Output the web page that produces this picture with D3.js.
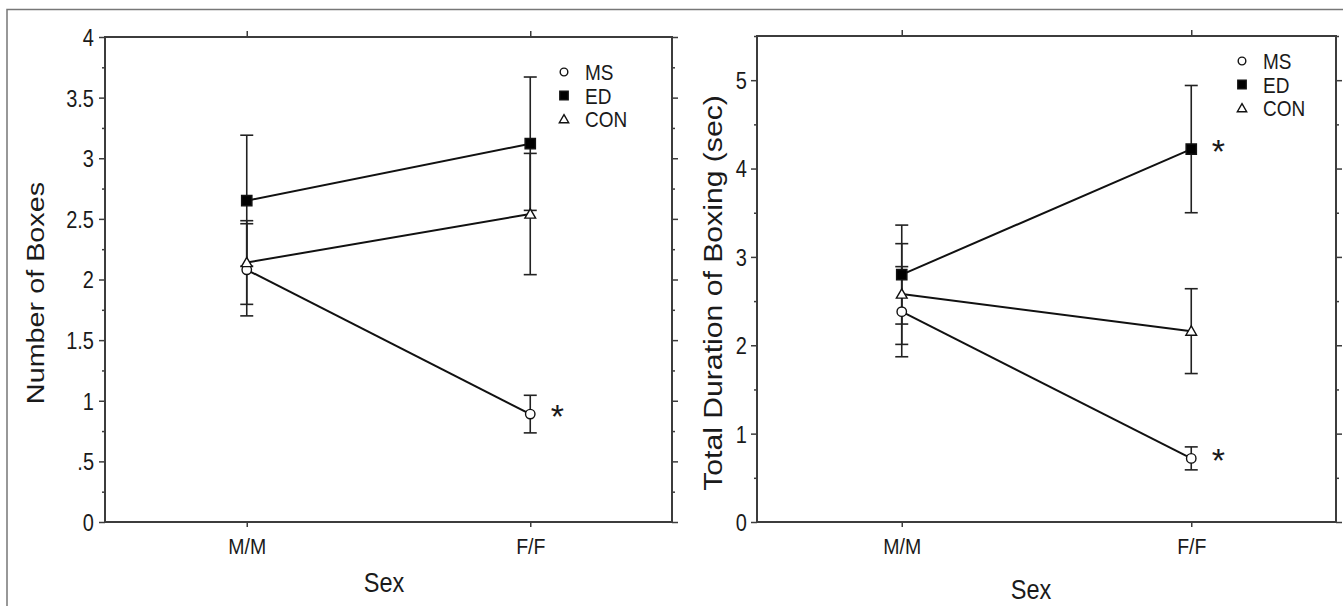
<!DOCTYPE html>
<html><head><meta charset="utf-8">
<script src="https://cdn.jsdelivr.net/npm/d3@7"></script>
<style>
body{margin:0;background:#fff}
svg{display:block}
text{font-family:"Liberation Sans",Arial,Helvetica,sans-serif;fill:#1a1a1a}
</style>
</head><body>
<svg id="chart" width="1343" height="606"></svg>
<script>
// ---------- data ----------
const categories = ["M/M", "F/F"];
const seriesNames = ["MS", "ED", "CON"];

// Number of Boxes (left panel)
const boxesMS = [2.08, 0.89];
const boxesMSErr = [0.38, 0.155];
const boxesED = [2.65, 3.12];
const boxesEDErr = [0.54, 0.55];
const boxesCON = [2.14, 2.54];
const boxesCONErr = [0.345, 0.50];
const boxesTicks = [0, 0.5, 1, 1.5, 2, 2.5, 3, 3.5, 4];
const boxesTickLabels = ["0", ".5", "1", "1.5", "2", "2.5", "3", "3.5", "4"];
const boxesMinorTicks = [0.25, 0.75, 1.25, 1.75, 2.25, 2.75, 3.25, 3.75];
const boxesSig = [{series: "MS", cat: "F/F"}];

// Total Duration of Boxing (right panel)
const durMS = [2.38, 0.72];
const durMSErr = [0.51, 0.13];
const durED = [2.80, 4.22];
const durEDErr = [0.56, 0.72];
const durCON = [2.58, 2.16];
const durCONErr = [0.57, 0.48];
const durTicks = [0, 1, 2, 3, 4, 5];
const durTickLabels = ["0", "1", "2", "3", "4", "5"];
const durMinorTicks = [0.5, 1.5, 2.5, 3.5, 4.5, 5.5];
const durSig = [{series: "ED", cat: "F/F"}, {series: "MS", cat: "F/F"}];

// ---------- drawing ----------
const K = 1.17; // vertical text stretch of the original figure
const svg = d3.select("#chart");

// outer frame
svg.append("path").attr("d", "M7,606V9.5H1343")
  .attr("fill", "none").attr("stroke", "#777").attr("stroke-width", 1.5);

function stretchText(sel, x, y, size, anchor, rot) {
  sel.attr("transform", `translate(${x},${y}) scale(1,${K})` + (rot ? " rotate(-90)" : ""))
     .attr("font-size", size).attr("text-anchor", anchor);
  return sel;
}

function panel(cfg) {
  const g = svg.append("g");
  const x = d3.scalePoint().domain(categories).range([cfg.left, cfg.right]).padding(0.5);
  const y = d3.scaleLinear().domain(cfg.domain).range([cfg.bottom, cfg.top]);
  const axisColor = "#3c3c3c";

  const styleAxis = a => {
    a.select(".domain").remove();
    a.selectAll(".tick line").attr("stroke", axisColor).attr("stroke-width", 1.5);
  };

  // left axis major + labels
  const ly = g.append("g").attr("transform", `translate(${cfg.left},0)`)
    .call(d3.axisLeft(y).tickValues(cfg.ticks).tickSize(6)
      .tickFormat((d, i) => cfg.tickLabels[i]));
  styleAxis(ly);
  ly.selectAll(".tick text")
    .attr("x", null).attr("dy", "0.36em").attr("fill", "#1a1a1a")
    .attr("font-family", null).attr("font-size", 20)
    .attr("transform", `translate(${cfg.labelOff},0) scale(1,${K})`)
    .attr("text-anchor", "end");
  const lym = g.append("g").attr("transform", `translate(${cfg.left},0)`)
    .call(d3.axisLeft(y).tickValues(cfg.minor).tickSize(3).tickFormat(""));
  styleAxis(lym);

  // right axis
  const ry = g.append("g").attr("transform", `translate(${cfg.right},0)`)
    .call(d3.axisRight(y).tickValues(cfg.ticks).tickSize(6).tickFormat(""));
  styleAxis(ry);
  const rym = g.append("g").attr("transform", `translate(${cfg.right},0)`)
    .call(d3.axisRight(y).tickValues(cfg.minor).tickSize(3).tickFormat(""));
  styleAxis(rym);

  // bottom axis
  const bx = g.append("g").attr("transform", `translate(0,${cfg.bottom})`)
    .call(d3.axisBottom(x).tickSize(5));
  styleAxis(bx);
  bx.selectAll(".tick text")
    .attr("y", 0).attr("dy", null).attr("fill", "#1a1a1a")
    .attr("font-family", null).attr("font-size", 19.5)
    .attr("transform", `translate(0,32) scale(1,${K})`);
  // top axis
  const tx = g.append("g").attr("transform", `translate(0,${cfg.top})`)
    .call(d3.axisTop(x).tickSize(6).tickFormat(""));
  styleAxis(tx);

  // frame box
  g.append("rect").attr("x", cfg.left).attr("y", cfg.top)
    .attr("width", cfg.right - cfg.left).attr("height", cfg.bottom - cfg.top)
    .attr("fill", "none").attr("stroke", axisColor).attr("stroke-width", 2);

  // axis titles
  stretchText(g.append("text").text(cfg.yTitle), cfg.yTitleX, cfg.yTitleY, cfg.yTitleSize, "middle", true);
  stretchText(g.append("text").text("Sex"), cfg.xTitleX, cfg.xTitleY, 23.5, "middle", false);

  const series = seriesNames.map((name, si) => ({
    name,
    values: categories.map((c, i) => ({cat: c, v: cfg.means[si][i], e: cfg.errs[si][i]}))
  }));

  // lines
  const line = d3.line().x(d => x(d.cat)).y(d => y(d.v));
  g.selectAll(".sline").data(series).join("path")
    .attr("d", d => line(d.values))
    .attr("fill", "none").attr("stroke", "#111").attr("stroke-width", 2);

  // error bars
  const eb = g.selectAll(".eb").data(series.flatMap(s => s.values)).join("g");
  eb.append("line").attr("x1", d => x(d.cat)).attr("x2", d => x(d.cat))
    .attr("y1", d => y(d.v - d.e)).attr("y2", d => y(d.v + d.e));
  eb.append("line").attr("x1", d => x(d.cat) - 6.5).attr("x2", d => x(d.cat) + 6.5)
    .attr("y1", d => y(d.v + d.e)).attr("y2", d => y(d.v + d.e));
  eb.append("line").attr("x1", d => x(d.cat) - 6.5).attr("x2", d => x(d.cat) + 6.5)
    .attr("y1", d => y(d.v - d.e)).attr("y2", d => y(d.v - d.e));
  eb.selectAll("line").attr("stroke", "#222").attr("stroke-width", 1.6);

  // markers
  const sym = {
    MS: {type: d3.symbolCircle, size: 70, fill: "#fff"},
    ED: {type: d3.symbolSquare, size: 106, fill: "#000"},
    CON: {type: d3.symbolTriangle, size: 50, fill: "#fff"}
  };
  series.forEach(s => {
    g.selectAll(null).data(s.values).join("path")
      .attr("transform", d => `translate(${x(d.cat)},${y(d.v) + (s.name === "CON" ? 1 : 0)})`)
      .attr("d", d3.symbol().type(sym[s.name].type).size(sym[s.name].size))
      .attr("fill", sym[s.name].fill).attr("stroke", "#111").attr("stroke-width", 1.4);
  });

  // significance asterisks
  cfg.sig.forEach(a => {
    const si = seriesNames.indexOf(a.series), ci = categories.indexOf(a.cat);
    g.append("text").text("*")
      .attr("x", x(a.cat) + 27).attr("y", y(cfg.means[si][ci]) + 14)
      .attr("font-family", "DejaVu Sans").attr("font-size", 34).attr("text-anchor", "middle");
  });

  // legend
  const lg = g.append("g").attr("transform", `translate(${cfg.legX},${cfg.legY})`);
  seriesNames.forEach((name, i) => {
    const cy = i * 23.5;
    const small = {MS: 46, ED: 70, CON: 38}[name];
    lg.append("path").attr("transform", `translate(0,${cy + (name === "CON" ? 1 : 0)})`)
      .attr("d", d3.symbol().type(sym[name].type).size(small))
      .attr("fill", sym[name].fill).attr("stroke", "#111").attr("stroke-width", 1.4);
    stretchText(lg.append("text").text(name).attr("dy", "0.36em"), 21, cy, 19, "start", false);
  });
}

panel({
  left: 105, right: 672, top: 37, bottom: 522, domain: [0, 4],
  ticks: boxesTicks, tickLabels: boxesTickLabels, minor: boxesMinorTicks, labelOff: -11,
  means: [boxesMS, boxesED, boxesCON], errs: [boxesMSErr, boxesEDErr, boxesCONErr],
  sig: boxesSig,
  yTitle: "Number of Boxes", yTitleX: 43.5, yTitleY: 293, yTitleSize: 24.6,
  xTitleX: 384, xTitleY: 592,
  legX: 564, legY: 72
});

panel({
  left: 757, right: 1336, top: 36, bottom: 522, domain: [0, 5.5],
  ticks: durTicks, tickLabels: durTickLabels, minor: durMinorTicks, labelOff: -10,
  means: [durMS, durED, durCON], errs: [durMSErr, durEDErr, durCONErr],
  sig: durSig,
  yTitle: "Total Duration of Boxing (sec)", yTitleX: 721.5, yTitleY: 293, yTitleSize: 25.8,
  xTitleX: 1031, xTitleY: 599,
  legX: 1242, legY: 61
});
</script>
</body></html>
